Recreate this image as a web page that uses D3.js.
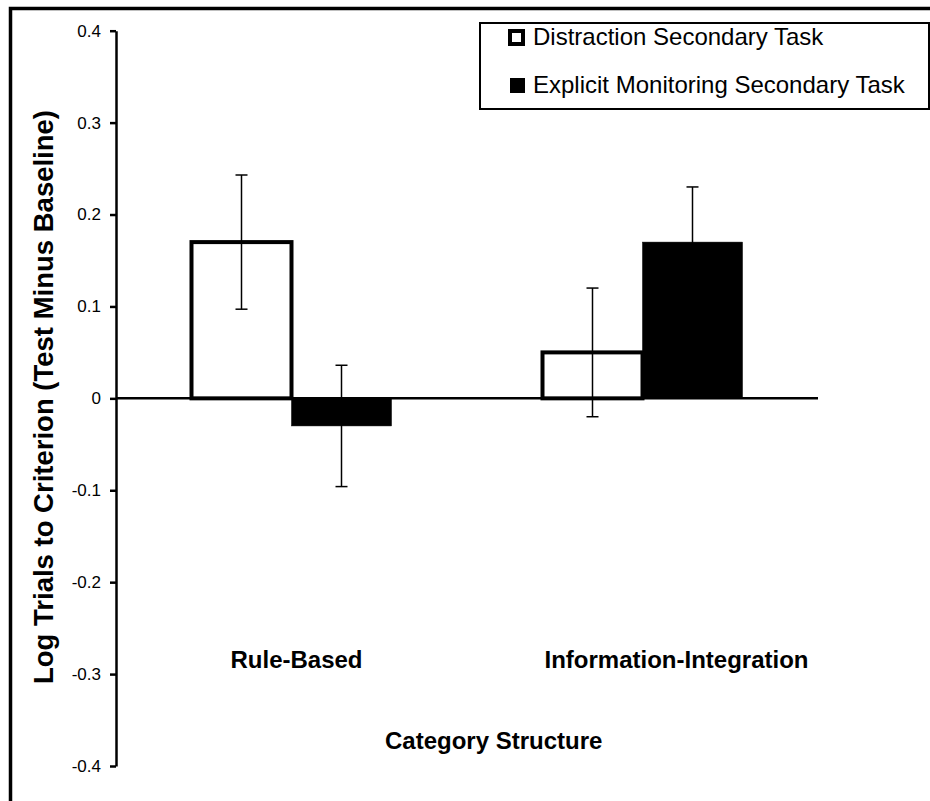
<!DOCTYPE html>
<html>
<head>
<meta charset="utf-8">
<script src="https://cdn.jsdelivr.net/npm/d3@7/dist/d3.min.js"></script>
<style>
  html, body { margin: 0; padding: 0; background: #fff; }
  svg { display: block; }
  text { font-family: "Liberation Sans", Arial, sans-serif; fill: #000; }
</style>
</head>
<body>
<svg id="chart" width="930" height="801"></svg>
<script>
// ---- data ----
const categories = ["Rule-Based", "Information-Integration"];
const seriesNames = ["Distraction Secondary Task", "Explicit Monitoring Secondary Task"];
const distractionValues = [0.17, 0.05];
const distractionErrors = [0.073, 0.07];
const explicitValues = [-0.03, 0.17];
const explicitErrors = [0.066, 0.06];
const yTicks = [-0.4, -0.3, -0.2, -0.1, 0, 0.1, 0.2, 0.3, 0.4];
const yTickLabels = ["-0.4", "-0.3", "-0.2", "-0.1", "0", "0.1", "0.2", "0.3", "0.4"];
const xTitle = "Category Structure";
const yTitle = "Log Trials to Criterion (Test Minus Baseline)";

const seriesValues = [distractionValues, explicitValues];
const seriesErrors = [distractionErrors, explicitErrors];
const seriesFill = ["#fff", "#000"];

const svg = d3.select("#chart");

// outer frame
svg.append("rect")
  .attr("x", 10.5).attr("y", 8.5)
  .attr("width", 1000).attr("height", 1000)
  .attr("fill", "none").attr("stroke", "#000").attr("stroke-width", 3.5);

const axisX = 116;
const plotRight = 818;
const y = d3.scaleLinear().domain([-0.4, 0.4]).range([766, 30.7]);
const x0 = d3.scaleBand().domain(categories).range([axisX, plotRight]).padding(0);
const x1 = d3.scaleBand().domain(seriesNames).range([-100, 100]).padding(0);

// y axis
const yAxis = d3.axisLeft(y)
  .tickValues(yTicks)
  .tickFormat((d, i) => yTickLabels[i])
  .tickSize(6)
  .tickSizeOuter(0)
  .tickPadding(9);
const gy = svg.append("g").attr("transform", `translate(${axisX},0)`).call(yAxis);
gy.select(".domain").attr("stroke", "#000").attr("stroke-width", 2.5);
gy.selectAll(".tick line").attr("stroke", "#000").attr("stroke-width", 2.5);
gy.selectAll(".tick text")
  .style("font-family", '"Liberation Sans", Arial, sans-serif')
  .style("font-size", "17px").attr("fill", "#000");

// bars
categories.forEach((cat, ci) => {
  const cx = x0(cat) + x0.bandwidth() / 2;
  seriesNames.forEach((s, si) => {
    const v = seriesValues[si][ci];
    const bx = cx + x1(s);
    const top = y(Math.max(0, v));
    const bot = y(Math.min(0, v));
    svg.append("rect")
      .attr("x", bx).attr("y", top)
      .attr("width", x1.bandwidth()).attr("height", bot - top)
      .attr("fill", seriesFill[si])
      .attr("stroke", "#000")
      .attr("stroke-width", si === 0 ? 4 : 0.5);
  });
});

// zero line
svg.append("line")
  .attr("x1", axisX).attr("x2", plotRight)
  .attr("y1", y(0)).attr("y2", y(0))
  .attr("stroke", "#000").attr("stroke-width", 2.5);

// error bars
categories.forEach((cat, ci) => {
  const cx = x0(cat) + x0.bandwidth() / 2;
  seriesNames.forEach((s, si) => {
    const v = seriesValues[si][ci];
    const e = seriesErrors[si][ci];
    const ex = cx + x1(s) + x1.bandwidth() / 2;
    const g = svg.append("g").attr("stroke", "#000").attr("stroke-width", 1.5);
    g.append("line").attr("x1", ex).attr("x2", ex).attr("y1", y(v + e)).attr("y2", y(v - e));
    g.append("line").attr("x1", ex - 6).attr("x2", ex + 6).attr("y1", y(v + e)).attr("y2", y(v + e));
    g.append("line").attr("x1", ex - 6).attr("x2", ex + 6).attr("y1", y(v - e)).attr("y2", y(v - e));
  });
});

// category labels
const labelOffsets = [5, 34];
categories.forEach((cat, ci) => {
  svg.append("text")
    .attr("x", x0(cat) + x0.bandwidth() / 2 + labelOffsets[ci])
    .attr("y", 668)
    .attr("text-anchor", "middle")
    .style("font-size", "24px").style("font-weight", "bold")
    .text(cat);
});

// axis titles
svg.append("text")
  .attr("x", 385).attr("y", 749)
  .style("font-size", "24px").style("font-weight", "bold")
  .text(xTitle);

svg.append("text")
  .attr("transform", "translate(53,397) rotate(-90)")
  .attr("text-anchor", "middle")
  .style("font-size", "27.5px").style("font-weight", "bold")
  .text(yTitle);

// legend
svg.append("rect")
  .attr("x", 480).attr("y", 23)
  .attr("width", 449).attr("height", 86)
  .attr("fill", "#fff").attr("stroke", "#000").attr("stroke-width", 2);

const legendBase = [45, 93];
seriesNames.forEach((s, si) => {
  if (si === 0) {
    svg.append("rect")
      .attr("x", 510).attr("y", legendBase[si] - 14)
      .attr("width", 13).attr("height", 13)
      .attr("fill", "#fff").attr("stroke", "#000").attr("stroke-width", 4);
  } else {
    svg.append("rect")
      .attr("x", 510).attr("y", legendBase[si] - 15)
      .attr("width", 15).attr("height", 15)
      .attr("fill", "#000");
  }
  svg.append("text")
    .attr("x", 533).attr("y", legendBase[si])
    .style("font-size", "24px")
    .text(s);
});
</script>
</body>
</html>
